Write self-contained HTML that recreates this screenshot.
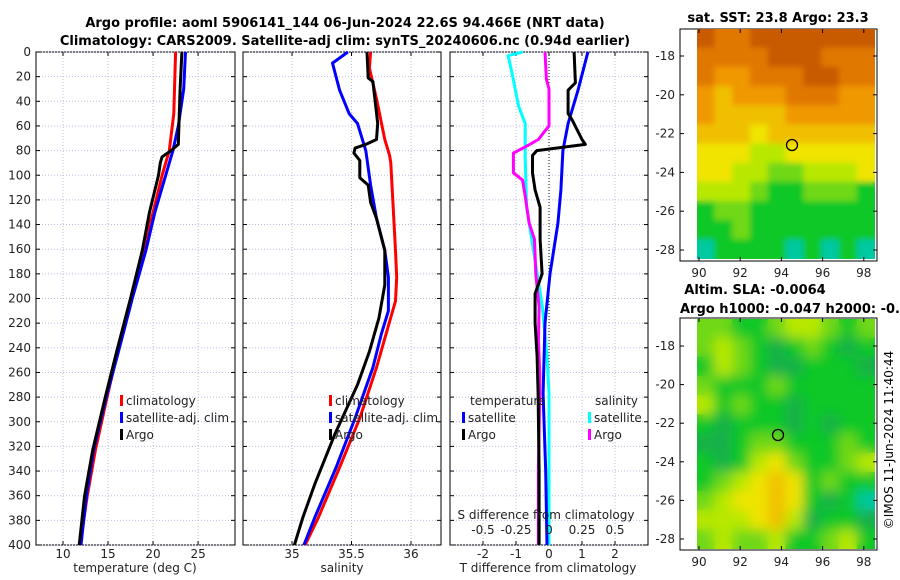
<!DOCTYPE html>
<html><head><meta charset="utf-8"><style>
body{margin:0;background:#fff;}
svg{display:block;font-family:"DejaVu Sans","Liberation Sans",sans-serif;}
</style></head><body>
<svg id="c" width="900" height="580" xmlns="http://www.w3.org/2000/svg">
<defs>
<filter id="bl1" x="-0.2" y="-0.2" width="1.4" height="1.4"><feGaussianBlur stdDeviation="3"/></filter>
<filter id="bl2" x="-0.2" y="-0.2" width="1.4" height="1.4"><feGaussianBlur stdDeviation="6"/></filter>
<clipPath id="m1c"><rect x="697" y="29" width="178" height="230"/></clipPath>
<clipPath id="m2c"><rect x="697" y="319" width="178" height="230"/></clipPath>
</defs>
<text x="345" y="27" text-anchor="middle" font-size="13" font-weight="bold">Argo profile: aoml 5906141_144 06-Jun-2024 22.6S 94.466E (NRT data)</text>
<text x="345" y="45" text-anchor="middle" font-size="13" font-weight="bold">Climatology: CARS2009. Satellite-adj clim: synTS_20240606.nc (0.94d earlier)</text>
<text x="778" y="22" text-anchor="middle" font-size="13" font-weight="bold">sat. SST: 23.8 Argo: 23.3</text>
<text x="755" y="294" text-anchor="middle" font-size="13" font-weight="bold">Altim. SLA: -0.0064</text>
<text x="680" y="313" font-size="13" font-weight="bold">Argo h1000: -0.047 h2000: -0.088</text>
<text transform="translate(893,440) rotate(-90)" text-anchor="middle" font-size="12">©IMOS 11-Jun-2024 11:40:44</text>
<g id="g"></g>
</svg>
<script>
const dRed=[0,50,80,100,130,161,200,242,280,323,360,400];
const tRed=[22.5,22.3,21.8,21.0,20.0,18.9,17.6,16.1,14.9,13.6,12.7,11.9];
const dBlue=[0,30,60,80,100,130,161,200,242,280,323,360,400];
const tBlue=[23.6,23.4,22.8,22.2,21.4,20.2,19.2,17.7,16.2,14.8,13.4,12.6,12.0];
const dArgo=[0,30,75,80,85,90,100,130,161,200,242,280,323,360,400];
const tArgo=[23.2,23.0,22.8,22.0,21.0,20.8,20.6,19.6,18.8,17.5,16.0,14.7,13.3,12.4,11.8];
const sdRed=[0,13,38,71,84,90,161,183,202,229,256,297,337,378,400];
const sRed=[35.66,35.65,35.71,35.78,35.82,35.83,35.87,35.88,35.87,35.79,35.71,35.57,35.40,35.22,35.11];
const sdBlue=[0,9,31,50,58,80,108,135,161,183,210,229,256,297,337,378,400];
const sBlue=[35.47,35.34,35.40,35.48,35.55,35.62,35.66,35.71,35.78,35.81,35.81,35.75,35.68,35.53,35.37,35.19,35.10];
const sdArgo=[0,21,24,58,71,75,78,82,88,102,108,122,135,161,189,216,243,270,310,351,378,400];
const sArgo=[35.63,35.64,35.68,35.72,35.71,35.62,35.53,35.52,35.57,35.57,35.64,35.66,35.71,35.78,35.78,35.73,35.65,35.55,35.36,35.19,35.09,35.02];
const dtSatD=[0,31,58,80,112,139,180,220,277,340,400];
const dtSat=[1.18,0.88,0.58,0.42,0.36,0.27,0.03,-0.12,-0.18,-0.1,-0.06];
const dtArgoD=[0,25,31,50,55,71,75,80,84,98,112,126,152,180,196,220,247,277,340,400];
const dtArgo=[0.76,0.8,0.58,0.58,0.7,1.0,1.1,-0.37,-0.5,-0.5,-0.42,-0.27,-0.27,-0.21,-0.42,-0.42,-0.36,-0.33,-0.3,-0.3];
const dsSatD=[0,3,17,44,58,85,126,166,207,247,277,400];
const dsSat=[-0.2,-0.31,-0.28,-0.23,-0.18,-0.18,-0.17,-0.11,-0.05,-0.015,0,0];
const dsArgoD=[0,22,30,60,66,71,77,82,98,104,117,139,152,180,207,234,261,277,340,400];
const dsArgo=[-0.03,-0.02,0,0,-0.045,-0.08,-0.18,-0.27,-0.27,-0.2,-0.18,-0.15,-0.11,-0.10,-0.075,-0.08,-0.07,-0.07,-0.08,-0.08];
const depthTicks=[0,20,40,60,80,100,120,140,160,180,200,220,240,260,280,300,320,340,360,380,400];
const tTicks=[10,15,20,25];
const sTicks=[35,35.5,36];
const dTicks=[-2,-1,0,1,2];
const dsTicks=[-0.5,-0.25,0,0.25,0.5];
const pal=["#00c8a0","#10c828","#70d818","#b8e800","#f0e400","#f0c000","#f09800","#e07800","#c85a00","#18b048"];
const sstGrid=[[8,7,7,8,8,8,8,8,8,8],[7,7,7,7,8,8,8,7,7,7],[7,6,6,7,7,7,8,8,7,7],[6,5,6,6,6,7,7,7,6,6],[6,5,5,5,5,6,6,6,6,6],[5,5,5,4,5,5,5,5,5,5],[4,4,4,3,3,4,4,4,4,4],[4,4,3,3,2,2,3,3,3,4],[3,3,3,2,1,1,2,2,2,1],[1,2,2,1,1,1,1,1,1,1],[1,1,2,1,1,1,1,1,1,1],[0,1,1,1,1,0,1,0,1,0]];
const slaGrid=[[2,2,1,1,2,3,3,2,1,2],[2,3,2,1,9,1,2,1,9,1],[1,3,2,1,9,9,1,1,1,9],[2,1,1,1,2,1,1,1,1,1],[3,1,2,1,1,9,1,1,1,1],[1,9,1,1,1,9,1,9,1,1],[9,9,1,2,2,1,1,1,2,1],[1,9,1,3,4,2,1,1,2,3],[1,2,3,4,5,4,1,2,1,1],[2,3,4,4,5,4,1,9,1,0],[3,3,3,4,5,3,9,1,1,9],[2,3,2,2,3,1,1,2,3,1]];
const latTicks=[-18,-20,-22,-24,-26,-28];
const lonTicks=[90,92,94,96,98];

const NS="http://www.w3.org/2000/svg";
const G=document.getElementById('g');
function mk(t,a,p){const e=document.createElementNS(NS,t);for(const k in a)e.setAttribute(k,a[k]);(p||G).appendChild(e);return e;}
const yTop=52,yBot=545;
const yD=d=>yTop+(yBot-yTop)*d/400;
function panel(x0,x1,lo,hi,name){
  const xs=v=>x0+(x1-x0)*(v-lo)/(hi-lo);
  const r=mk('rect',{x:x0,y:yTop,width:x1-x0,height:yBot-yTop,fill:'#fff',stroke:'#000','stroke-width':1});
  
  
  depthTicks.forEach(d=>{mk('line',{x1:x0,x2:x1,y1:yD(d),y2:yD(d),stroke:'#b8c0e0','stroke-dasharray':'1,2','stroke-width':1});
    mk('line',{x1:x0,x2:x0+4,y1:yD(d),y2:yD(d),stroke:'#000'});mk('line',{x1:x1-4,x2:x1,y1:yD(d),y2:yD(d),stroke:'#000'});});
  return xs;
}
function vgrid(xs,ticks,labelY){ticks.forEach(v=>{const x=xs(v);
  mk('line',{x1:x,x2:x,y1:yTop,y2:yBot,stroke:'#b8c0e0','stroke-dasharray':'1,2'});
  mk('line',{x1:x,x2:x,y1:yBot-4,y2:yBot,stroke:'#000'});mk('line',{x1:x,x2:x,y1:yTop,y2:yTop+4,stroke:'#000'});
  if(labelY){const t=mk('text',{x:x,y:labelY,'text-anchor':'middle','font-size':12,fill:'#222'});t.textContent=String(v);
    
    }});}
function line(xs,ds,vs,col,name,w){const p=ds.map((d,i)=>(i?'L':'M')+xs(vs[i]).toFixed(1)+','+yD(d).toFixed(1)).join('');
  const e=mk('path',{d:p,fill:'none',stroke:col,'stroke-width':w||3,'stroke-linejoin':'round'});
  
  }
function txt(x,y,s,name,opt){const t=mk('text',Object.assign({x:x,y:y,'font-size':12,fill:'#222'},opt||{}));t.textContent=s;
  
  return t;}
function leg(x,y,col,s,name){mk('rect',{x:x,y:y-10,width:3,height:11,fill:col});txt(x+6,y,s,name);}

const x1=panel(36,235,7.0,29.1,'temperature-panel');
vgrid(x1,tTicks,558);
depthTicks.forEach(d=>{txt(31,yD(d)+4,String(d),'y-tick-label',{'text-anchor':'end'});});
line(x1,dRed,tRed,'#f00','temp-climatology-line');
line(x1,dBlue,tBlue,'#00f','temp-satellite-line');
line(x1,dArgo,tArgo,'#000','temp-argo-line');
txt(135,572,'temperature (deg C)','x-axis-title-temperature',{'text-anchor':'middle'});
leg(120,405,'#f00','climatology','legend-climatology');leg(120,422,'#00f','satellite-adj. clim','legend-satellite');leg(120,439,'#000','Argo','legend-argo');

const x2=panel(243,441,34.588,36.252,'salinity-panel');
vgrid(x2,sTicks,558);
line(x2,sdRed,sRed,'#f00','sal-climatology-line');
line(x2,sdBlue,sBlue,'#00f','sal-satellite-line');
line(x2,sdArgo,sArgo,'#000','sal-argo-line');
txt(342,572,'salinity','x-axis-title-salinity',{'text-anchor':'middle'});
leg(329,405,'#f00','climatology','legend-climatology-2');leg(329,422,'#00f','satellite-adj. clim','legend-satellite-2');leg(329,439,'#000','Argo','legend-argo-2');

const x3=panel(450,648,-3,3,'difference-panel');
const x3s=v=>x3(v*4);
vgrid(x3,dTicks,558);
mk('line',{x1:x3(0),x2:x3(0),y1:yTop,y2:yBot,stroke:'#000','stroke-dasharray':'1,2'});
line(x3s,dsSatD,dsSat,'#0ff','sdiff-satellite-line');
line(x3s,dsArgoD,dsArgo,'#f0f','sdiff-argo-line');
line(x3,dtSatD,dtSat,'#00f','tdiff-satellite-line');
line(x3,dtArgoD,dtArgo,'#000','tdiff-argo-line');
txt(548,572,'T difference from climatology','x-axis-title-tdiff',{'text-anchor':'middle'});
txt(546,519,'S difference from climatology','s-axis-title',{'text-anchor':'middle'});
dsTicks.forEach(v=>txt(x3s(v),534,String(v),'s-tick-label',{'text-anchor':'middle'}));
txt(470,405,'temperature','legend-temperature-header');txt(595,405,'salinity','legend-salinity-header');
leg(462,422,'#00f','satellite','legend-t-satellite');leg(462,439,'#000','Argo','legend-t-argo');
leg(588,422,'#0ff','satellite','legend-s-satellite');leg(588,439,'#f0f','Argo','legend-s-argo');

function cells(parent,grid,dy0,dy1){
  const cw=178/grid[0].length,ch=(dy1-dy0)/grid.length;
  grid.forEach((row,r)=>row.forEach((c,k)=>{const e=mk('rect',{x:697+k*cw-0.5,y:dy0+r*ch-0.5,width:cw+1,height:ch+1,fill:pal[c]},parent);
    
    }));
}
function map(y0,y1,dy0,dy1,grid,clip,filt,name,cx,cy,latY0,latStep){
  const b=mk('rect',{x:680,y:y0,width:197,height:y1-y0,fill:'#fff',stroke:'#000'});
  
  
  const g=mk('g',{'clip-path':'url(#'+clip+')'});
  cells(g,grid,dy0,dy1);
  const gi=mk('g',{filter:'url(#'+filt+')'},g);
  cells(gi,grid,dy0,dy1);
  latTicks.forEach((l,i)=>{const y=latY0+i*latStep;mk('line',{x1:680,x2:684,y1:y,y2:y,stroke:'#000'});mk('line',{x1:873,x2:877,y1:y,y2:y,stroke:'#000'});
    txt(675,y+4,String(l),'lat-tick-label',{'text-anchor':'end'});});
  lonTicks.forEach((l,i)=>{const x=699+i*41.2;mk('line',{x1:x,x2:x,y1:y1-4,y2:y1,stroke:'#000'});mk('line',{x1:x,x2:x,y1:y0,y2:y0+4,stroke:'#000'});
    txt(x,y1+16,String(l),'lon-tick-label',{'text-anchor':'middle'});});
  const c=mk('circle',{cx:cx,cy:cy,r:5.5,fill:'none',stroke:'#000','stroke-width':1.3});
  
  
}
map(29,261,29,259,sstGrid,'m1c','bl1','sst-map',792,145,56,38.8);
map(318,550,319,549,slaGrid,'m2c','bl2','sla-map',778,435,346,38.6);
</script>
</body></html>
